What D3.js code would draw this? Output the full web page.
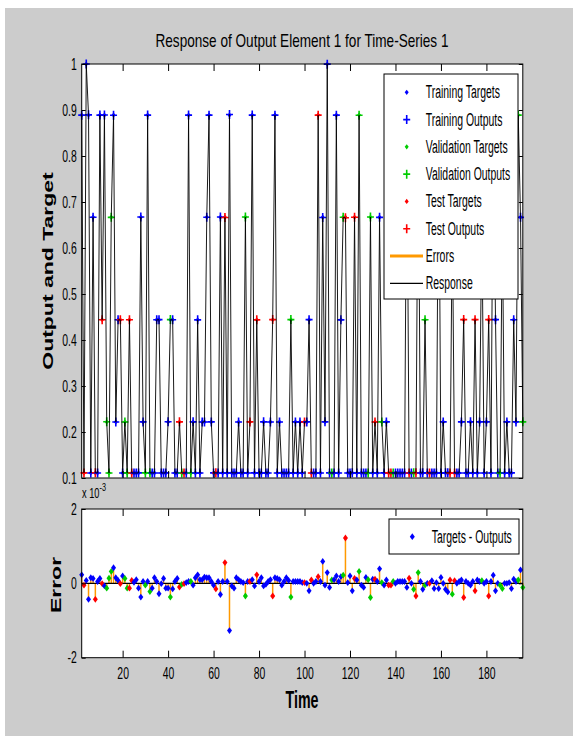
<!DOCTYPE html>
<html>
<head>
<meta charset="utf-8">
<title>Response of Output Element 1 for Time-Series 1</title>
<script src="https://d3js.org/d3.v7.min.js"></script>
<style>
  body { margin: 0; background: #fff; }
  svg text { font-family: "Liberation Sans", Arial, sans-serif; fill: #000; }
</style>
</head>
<body>
<div id="chart"></div>
<script>
// one value per time step, first step is t = 2
var tStart = 2;

var targets = [
  .889,.111,1,.889,.111,.667,.111,.111,.889,.444,
  .889,.222,.111,.667,.889,.222,.444,.444,.111,.222,
  .111,.444,.111,.111,.111,.111,.667,.222,.111,.889,
  .111,.111,.111,.444,.444,.111,.111,.111,.222,.444,
  .444,.111,.111,.222,.111,.111,.111,.889,.111,.222,
  .111,.444,.111,.222,.222,.667,.889,.222,.111,.111,
  .111,.667,.111,.667,.111,.889,.111,.111,.111,.222,
  .111,.111,.667,.111,.222,.889,.111,.444,.111,.111,
  .222,.111,.111,.222,.444,.889,.111,.222,.111,.111,
  .111,.111,.444,.111,.222,.111,.222,.111,.222,.222,
  .444,.111,.111,.111,.889,.111,.667,.222,1,.111,
  .111,.111,.889,.111,.444,.667,.667,.111,.111,.111,
  .667,.111,.889,.111,.111,.111,.111,.667,.111,.222,
  .111,.667,.222,.111,.222,.111,.111,.111,.111,.111,
  .111,.111,.111,.889,.111,.111,.111,.111,.889,.111,
  .111,.444,.111,.111,.111,.111,.111,.889,.111,.222,
  .111,.111,.111,.667,.111,.111,.111,.222,.444,.111,
  .111,.222,.111,.444,.111,.222,.667,.111,.222,.444,
  .111,.889,.444,.111,.111,.667,.111,.222,.111,.111,
  .444,.222,.889,.667,.222
];

// 0 = training, 1 = validation, 2 = test
var sets = [
  0,2,0,0,0,0,2,0,0,2,
  0,1,1,1,0,0,0,2,0,1,
  1,2,2,0,0,0,0,0,1,0,
  1,0,0,0,0,0,0,0,0,1,
  0,0,0,2,1,2,0,0,1,0,
  0,0,0,0,0,0,0,0,0,2,
  0,0,0,2,0,0,0,0,0,0,
  0,0,1,0,2,0,0,2,0,0,
  0,0,0,0,2,0,0,0,0,0,
  0,0,1,0,0,0,0,0,2,0,
  0,2,0,0,2,0,0,0,0,0,
  1,0,0,0,0,1,2,0,0,0,
  2,0,1,0,0,0,1,1,0,2,
  0,0,1,0,0,2,2,1,0,0,
  0,0,0,0,2,0,1,2,1,0,
  0,1,0,2,0,0,0,0,0,0,
  0,0,2,1,2,0,0,0,2,0,
  0,0,0,2,0,0,1,0,0,2,
  0,0,0,0,1,1,0,0,0,0,
  0,0,1,0,1
];

// targets - outputs, in units of 1e-3
var errors = [
  .23,-.05,.08,-.43,.15,.13,-.43,.05,.13,-.01,
  -.07,-.13,.14,.32,.42,.15,.08,-.01,.2,.13,
  -.13,-.13,.08,.03,.1,-.13,-.37,.05,-.05,.05,
  -.22,-.13,.15,.05,-.28,-.01,.13,-.13,-.13,-.37,
  -.15,.05,.13,-.1,-.03,-.01,.02,.05,.05,-.05,
  .15,.23,.1,.1,.17,.15,.15,.05,-.05,-.15,
  .05,-.3,.05,.56,.05,-1.27,-.07,-.13,.15,.1,
  .05,.02,-.34,.05,.05,.1,-.07,.23,.05,.15,
  -.07,-.03,.05,.1,-.34,.15,.13,.1,-.05,.05,
  .15,.08,-.37,.05,.05,.05,.05,.02,.02,0,
  -.2,.09,0,.05,.18,.05,.59,-.05,.29,-.11,
  .09,.1,.2,.05,.18,.22,1.22,.02,.2,-.2,
  .13,.09,.32,-.05,-.11,.16,.1,-.38,.11,.11,
  .05,.39,.02,-.05,.09,-.05,-.05,.05,0,.05,
  .05,.05,.05,-.11,.14,0,-.16,-.34,.29,.05,
  -.16,-.05,0,0,.07,-.14,.02,-.14,.16,0,
  -.16,-.23,.09,-.29,.07,0,.05,.09,-.38,.05,
  0,-.05,.05,-.2,.09,.05,.07,0,.05,-.34,
  .05,.22,-.2,0,-.05,-.14,0,0,.02,-.14,
  .11,.05,.09,.36,-.11
];

var setNames = ["Training", "Validation", "Test"];
var setColors = ["#0000ff", "#00cc00", "#ff0000"];
var errColor = "#ff9900";
var xTicks = [20, 40, 60, 80, 100, 120, 140, 160, 180];
var yTicksTop = [0.1, 0.2, 0.3, 0.4, 0.5, 0.6, 0.7, 0.8, 0.9, 1];
var yTicksErr = [-2, 0, 2];

var width = 573, height = 736;
var left = 81.7, right = 522.8;
var top1 = 64, bot1 = 478, top2 = 509, bot2 = 657.7;

var data = targets.map(function(v, i) {
  return { t: tStart + i, target: v, output: v - errors[i] / 1000, err: errors[i], set: sets[i] };
});

var svg = d3.select("#chart").append("svg")
  .attr("width", width)
  .attr("height", height);

svg.append("rect")
  .attr("x", 5).attr("y", 8)
  .attr("width", width - 5).attr("height", height - 8)
  .attr("fill", "#cccccc");

var x = d3.scaleLinear().domain([tStart, tStart + targets.length - 1]).range([left, right]);
var y1 = d3.scaleLinear().domain([0.1, 1]).range([bot1, top1]);
var y2 = d3.scaleLinear().domain([-2, 2]).range([bot2, top2]);

// the picture is squeezed sideways, so text is too
function squeeze(sel, k) {
  sel.each(function() {
    var w = this.getComputedTextLength();
    d3.select(this).attr("textLength", w * k).attr("lengthAdjust", "spacingAndGlyphs");
  });
}

var plus = "M-3.5,0H3.5M0,-4.5V4.5";
var diamond = "M0,-3.4L2.5,0L0,3.4L-2.5,0Z";
var smallDiamond = "M0,-2.6L2,0L0,2.6L-2,0Z";

// white plot areas
[[top1, bot1], [top2, bot2]].forEach(function(r) {
  svg.append("rect")
    .attr("x", left).attr("y", r[0])
    .attr("width", right - left).attr("height", r[1] - r[0])
    .attr("fill", "#fff");
});

// ---- top: targets, outputs, response
var gTop = svg.append("g");

gTop.selectAll(".target")
  .data(data)
  .enter().append("path")
  .attr("class", "target")
  .attr("d", smallDiamond)
  .attr("transform", function(d) { return "translate(" + x(d.t) + "," + y1(d.target) + ")"; })
  .attr("fill", function(d) { return setColors[d.set]; });

gTop.selectAll(".output")
  .data(data)
  .enter().append("path")
  .attr("class", "output")
  .attr("d", plus)
  .attr("transform", function(d) { return "translate(" + x(d.t) + "," + y1(d.output) + ")"; })
  .attr("fill", "none")
  .attr("stroke", function(d) { return setColors[d.set]; })
  .attr("stroke-width", 1.6);

gTop.append("path")
  .datum(data)
  .attr("fill", "none")
  .attr("stroke", "#000")
  .attr("stroke-width", 0.9)
  .attr("d", d3.line().x(function(d) { return x(d.t); }).y(function(d) { return y1(d.output); }));

// ---- bottom: errors
var gBot = svg.append("g");

gBot.selectAll(".stem")
  .data(data)
  .enter().append("line")
  .attr("class", "stem")
  .attr("x1", function(d) { return x(d.t); })
  .attr("x2", function(d) { return x(d.t); })
  .attr("y1", y2(0))
  .attr("y2", function(d) { return y2(d.err); })
  .attr("stroke", errColor)
  .attr("stroke-width", 1.5);

gBot.append("line")
  .attr("x1", left).attr("x2", right)
  .attr("y1", y2(0)).attr("y2", y2(0))
  .attr("stroke", "#000")
  .attr("stroke-width", 1.2);

gBot.selectAll(".dot")
  .data(data)
  .enter().append("path")
  .attr("class", "dot")
  .attr("d", diamond)
  .attr("transform", function(d) { return "translate(" + x(d.t) + "," + y2(d.err) + ")"; })
  .attr("fill", function(d) { return setColors[d.set]; });

// ---- axes with inward ticks on every side
function axes(y, yTicks, xLabels) {
  var g = svg.append("g");
  var yb = y.range()[0], yt = y.range()[1];
  g.append("g")
    .attr("transform", "translate(0," + yb + ")")
    .call(d3.axisBottom(x).tickValues(xTicks).tickSize(-7).tickPadding(10)
      .tickFormat(xLabels ? function(d) { return String(d); } : function() { return ""; }));
  g.append("g")
    .attr("transform", "translate(0," + yt + ")")
    .call(d3.axisTop(x).tickValues(xTicks).tickSize(-7).tickFormat(function() { return ""; }));
  g.append("g")
    .attr("transform", "translate(" + left + ",0)")
    .call(d3.axisLeft(y).tickValues(yTicks).tickSize(-4).tickPadding(5)
      .tickFormat(function(d) { return String(d); }));
  g.append("g")
    .attr("transform", "translate(" + right + ",0)")
    .call(d3.axisRight(y).tickValues(yTicks).tickSize(-4).tickFormat(function() { return ""; }));
  g.selectAll(".domain").remove();
  g.selectAll(".tick line").attr("stroke", "#000");
  g.selectAll("g").attr("font-size", 16).attr("font-family", null);
  g.selectAll(".tick text").attr("fill", "#000");
  squeeze(g.selectAll(".tick text"), 0.65);
  g.append("rect")
    .attr("x", left).attr("y", yt)
    .attr("width", right - left).attr("height", yb - yt)
    .attr("fill", "none").attr("stroke", "#000").attr("stroke-width", 1);
}
axes(y1, yTicksTop, false);
axes(y2, yTicksErr, true);

// exponent note of the error axis
svg.append("text")
  .attr("transform", "translate(82,498) scale(0.66,1)")
  .attr("font-size", 14)
  .text("x 10")
  .append("tspan").attr("dy", -7).attr("font-size", 11).text("-3");

// ---- titles
svg.append("text")
  .attr("x", 302).attr("y", 47)
  .attr("text-anchor", "middle")
  .attr("font-size", 19)
  .attr("textLength", 293).attr("lengthAdjust", "spacingAndGlyphs")
  .text("Response of Output Element 1 for Time-Series 1");

svg.append("text")
  .attr("transform", "translate(53,271) scale(0.62,1) rotate(-90)")
  .attr("text-anchor", "middle")
  .attr("font-size", 23).attr("font-weight", "bold")
  .text("Output and Target");

svg.append("text")
  .attr("transform", "translate(60.7,585) scale(0.62,1) rotate(-90)")
  .attr("text-anchor", "middle")
  .attr("font-size", 23).attr("font-weight", "bold")
  .text("Error");

svg.append("text")
  .attr("transform", "translate(302,708) scale(0.62,1)")
  .attr("text-anchor", "middle")
  .attr("font-size", 23).attr("font-weight", "bold")
  .text("Time");

// ---- legends
var legendRows = [];
setNames.forEach(function(n, i) {
  legendRows.push({ label: n + " Targets", kind: "dot", color: setColors[i] });
  legendRows.push({ label: n + " Outputs", kind: "plus", color: setColors[i] });
});
legendRows.push({ label: "Errors", kind: "line", color: errColor, w: 3 });
legendRows.push({ label: "Response", kind: "line", color: "#000", w: 1.2 });

var lg = svg.append("g");
lg.append("rect")
  .attr("x", 384).attr("y", 74).attr("width", 134).attr("height", 225)
  .attr("fill", "#fff").attr("stroke", "#000").attr("stroke-width", 1);

var rowY = d3.scaleLinear().domain([0, legendRows.length - 1]).range([92.3, 283.3]);

var row = lg.selectAll(".row")
  .data(legendRows)
  .enter().append("g")
  .attr("class", "row")
  .attr("transform", function(d, i) { return "translate(0," + rowY(i) + ")"; });

row.filter(function(d) { return d.kind === "dot"; }).append("path")
  .attr("d", smallDiamond)
  .attr("transform", "translate(406.7,0)")
  .attr("fill", function(d) { return d.color; });

row.filter(function(d) { return d.kind === "plus"; }).append("path")
  .attr("d", plus)
  .attr("transform", "translate(406.7,0)")
  .attr("fill", "none")
  .attr("stroke", function(d) { return d.color; })
  .attr("stroke-width", 1.6);

row.filter(function(d) { return d.kind === "line"; }).append("line")
  .attr("x1", 390).attr("x2", 423).attr("y1", 0).attr("y2", 0)
  .attr("stroke", function(d) { return d.color; })
  .attr("stroke-width", function(d) { return d.w; });

var rowText = row.append("text")
  .attr("x", 425.7).attr("y", 6)
  .attr("font-size", 18)
  .text(function(d) { return d.label; });
squeeze(rowText, 0.58);

var lg2 = svg.append("g");
lg2.append("rect")
  .attr("x", 389).attr("y", 519).attr("width", 130).attr("height", 35)
  .attr("fill", "#fff").attr("stroke", "#000").attr("stroke-width", 1);
lg2.append("path")
  .attr("d", diamond)
  .attr("transform", "translate(412.3,536.7)")
  .attr("fill", setColors[0]);
var lg2Text = lg2.append("text")
  .attr("x", 431.7).attr("y", 543)
  .attr("font-size", 18)
  .text("Targets - Outputs");
squeeze(lg2Text, 0.58);
</script>
</body>
</html>
